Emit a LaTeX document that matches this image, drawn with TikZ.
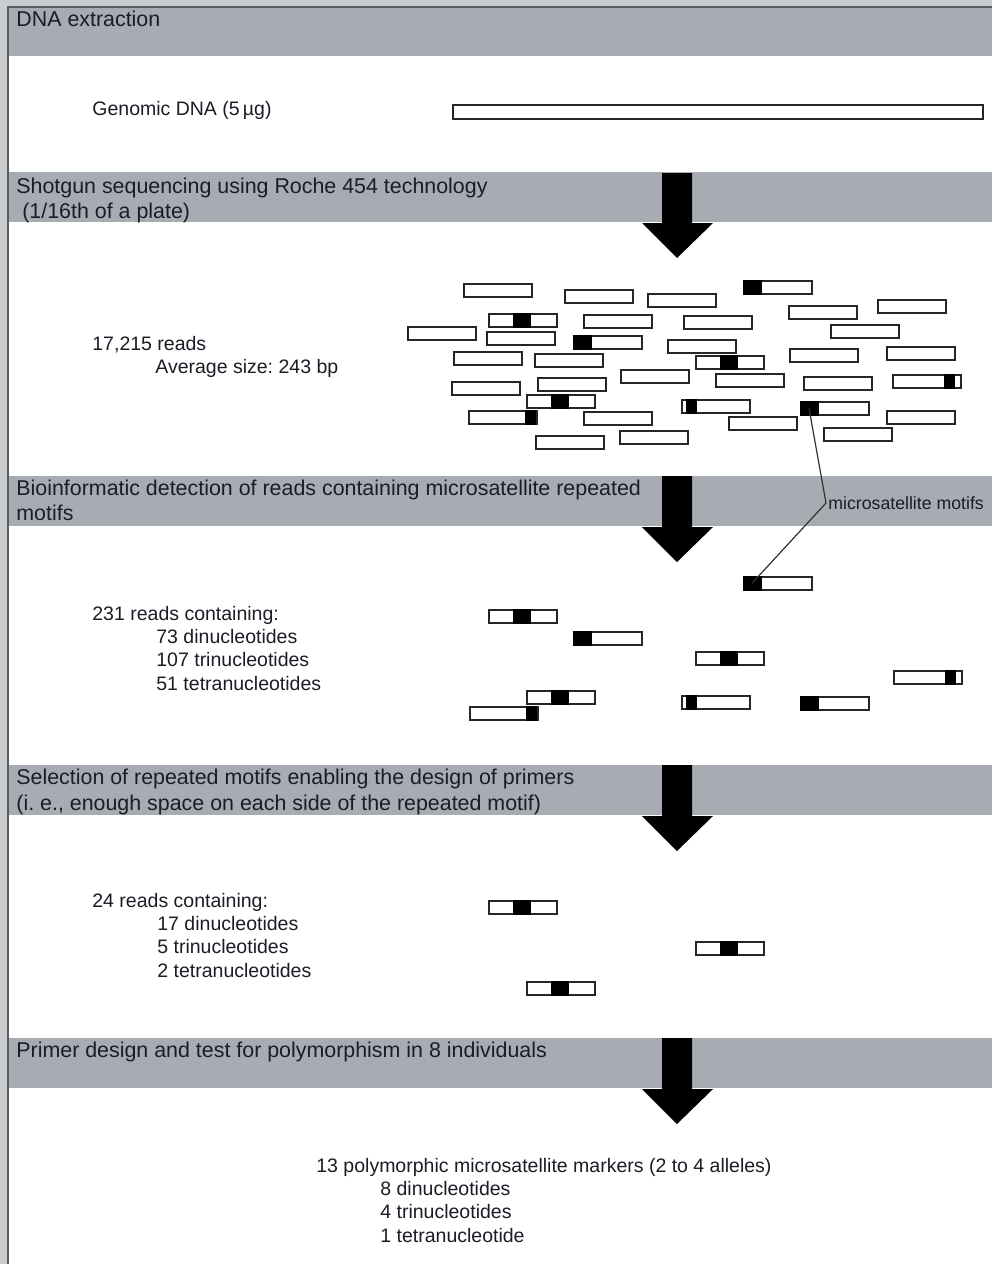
\documentclass[tikz,border=0pt]{standalone}
\usepackage{fontspec}
\setmainfont{Liberation Sans}
\usetikzlibrary{calc}
\definecolor{bandgray}{HTML}{A7ACB3}
\definecolor{framegray}{HTML}{C9CDD0}
\definecolor{edgegray}{HTML}{5C5C60}
\definecolor{inkdark}{HTML}{1C1C26}
\frenchspacing

\tikzset{
  head/.style={font=\fontsize{10.7}{12.8}\selectfont, text=inkdark,
               anchor=base west, inner sep=0pt},
  body/.style={font=\fontsize{9.75}{11.7}\selectfont, text=inkdark,
               anchor=base west, inner sep=0pt},
  readbox/.style={draw=black!85, line width=0.75pt, fill=white, anchor=north west,
                  minimum width=34pt, minimum height=6.5pt, inner sep=0pt},
  motif/.style={fill=black},
}

\begin{document}
\begin{tikzpicture}[x=0.5pt, y=-0.5pt]
    \useasboundingbox (0,0) rectangle (992,1264);
    % page frame
    \fill[framegray] (0,0) rectangle (992,1264);
    \fill[white] (8,7) rectangle (992,1264);
    \draw[edgegray, line width=1pt] (8,1264) -- (8,7) -- (992,7);
    % grey step bands
    \foreach \t/\b in {8/56, 172/222, 476/526, 765/815, 1038/1088}
      \fill[bandgray] (9,\t) rectangle (992,\b);
    % block arrows
    \foreach \t/\b in {173/223, 476/527, 765/816, 1038/1089}
      \fill[black] (662,\t) -- (692,\t) -- (692,\b) -- (713,\b) -- (677,\b+35)
        -- (642,\b) -- (662,\b) -- cycle;

    % step headings
    \node[head] (h1) at (16,26) {DNA extraction};
    \node[head] (h2) at (16,193) {Shotgun sequencing using Roche 454 technology};
    \node[head] (h2b) at (16,218) {~(1/16th of a plate)};
    \node[head] (h3) at (16,495)
      {Bioinformatic detection of reads containing microsatellite repeated};
    \node[head] (h3b) at (16,520) {motifs};
    \node[head] (h4) at (16,784)
      {Selection of repeated motifs enabling the design of primers};
    \node[head] (h4b) at (16,810)
      {(i. e., enough space on each side of the repeated motif)};
    \node[head] (h5) at (16,1057)
      {Primer design and test for polymorphism in 8 individuals};

    % step results
    \node[body] (genomic) at (92,115) {Genomic DNA (5\,µg)};
    \node[readbox, minimum width=265pt, minimum height=7pt] (genome) at (452,104) {};

    \node[body] (nreads) at (92,350) {17,215 reads};
    \node[body] (avgsize) at (155,373) {Average size: 243 bp};

    \node[body] (nmicro) at (92,620) {231 reads containing:};
    \node[body] (mdi) at (156,643) {73 dinucleotides};
    \node[body] (mtri) at (156,666) {107 trinucleotides};
    \node[body] (mtetra) at (156,690) {51 tetranucleotides};

    \node[body] (nsel) at (92,907) {24 reads containing:};
    \node[body] (sdi) at (157,930) {17 dinucleotides};
    \node[body] (stri) at (157,953) {5 trinucleotides};
    \node[body] (stetra) at (157,977) {2 tetranucleotides};

    \node[body] (npoly) at (316,1172) {13 polymorphic microsatellite markers (2 to 4 alleles)};
    \node[body] (pdi) at (380,1195) {8 dinucleotides};
    \node[body] (ptri) at (380,1218) {4 trinucleotides};
    \node[body] (ptetra) at (380,1242) {1 tetranucleotide};

    % all shotgun reads (x/y/motif start/motif end)
    \foreach \x/\y/\a/\b [count=\i] in {463/283/0/0, 564/289/0/0, 647/293/0/0,
        743/280/0/19, 788/305/0/0, 877/299/0/0, 488/313/25/43, 583/314/0/0,
        683/315/0/0, 830/324/0/0, 407/326/0/0, 486/331/0/0, 573/335/0/19,
        667/339/0/0, 789/348/0/0, 886/346/0/0, 453/351/0/0, 534/353/0/0,
        695/355/25/43, 620/369/0/0, 715/373/0/0, 803/376/0/0, 892/374/52/63,
        451/381/0/0, 537/377/0/0, 526/394/25/43, 681/399/5/16, 800/401/0/19,
        468/410/57/68, 583/411/0/0, 728/416/0/0, 886/410/0/0, 823/427/0/0,
        535/435/0/0, 619/430/0/0} {
      \node[readbox] (s\i) at (\x,\y) {};
      \fill[motif] ($(s\i.north west)+(\a,0)$) rectangle ($(s\i.south west)+(\b,0)$);
    }

    % reads with microsatellites
    \foreach \x/\y/\a/\b [count=\i] in {743/576/0/19, 488/609/25/43, 573/631/0/19,
        695/651/25/43, 893/670/52/63, 526/690/25/43, 469/706/57/68,
        681/695/5/16, 800/696/0/19} {
      \node[readbox] (c\i) at (\x,\y) {};
      \fill[motif] ($(c\i.north west)+(\a,0)$) rectangle ($(c\i.south west)+(\b,0)$);
    }

    % selected reads
    \foreach \x/\y [count=\i] in {488/900, 695/941, 526/981} {
      \node[readbox] (p\i) at (\x,\y) {};
      \fill[motif] ($(p\i.north west)+(25,0)$) rectangle ($(p\i.south west)+(43,0)$);
    }

    % motif label
    \node[font=\fontsize{8.85}{10}\selectfont, text=inkdark, anchor=west, inner sep=1pt]
      (mlabel) at (826,503) {microsatellite motifs};
    \draw[black!80, line width=0.6pt] ($(s28.west)+(9,0)$) -- (mlabel.west)
      -- ($(c1.west)+(9,0)$);
\end{tikzpicture}
\end{document}
